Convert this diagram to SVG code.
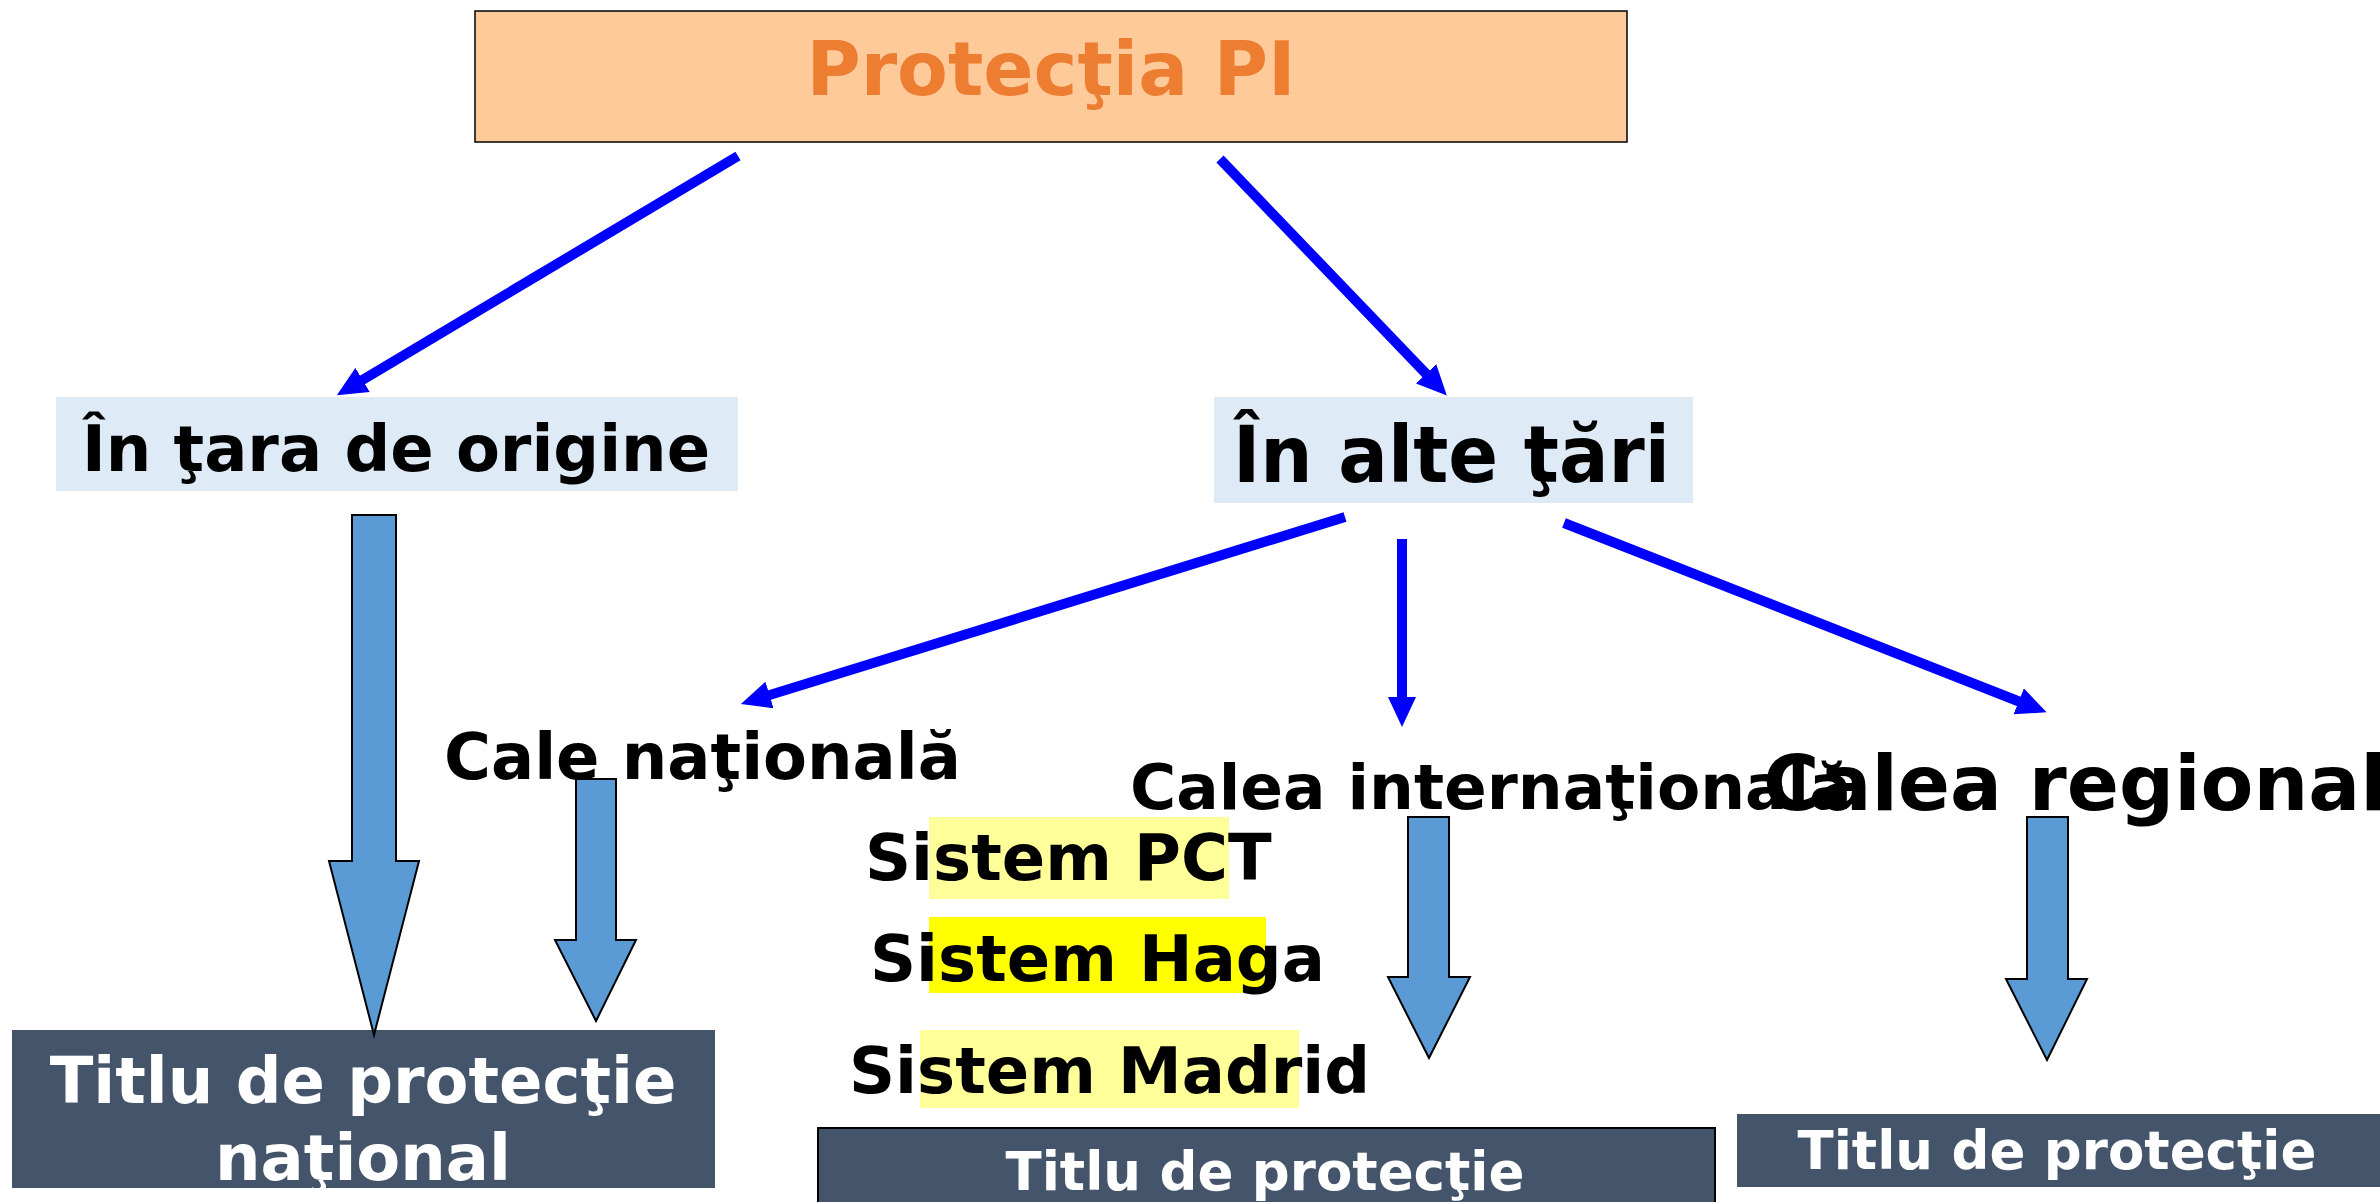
<svg xmlns="http://www.w3.org/2000/svg" width="2380" height="1202" viewBox="0 0 2380 1202">
<style>
text{font-family:"DejaVu Sans","Liberation Sans",sans-serif;font-weight:bold}
.lb{fill:#DEEAF6}
.dk{fill:#44546A}
.wt{fill:#ffffff}
.bk{fill:#000000}
.blk{fill:#5B9BD5;stroke:#000;stroke-width:2}
.con{stroke:#0000FF;stroke-width:10;fill:none;marker-end:url(#ah)}
</style>
<defs>
<marker id="ah" markerUnits="userSpaceOnUse" markerWidth="30" markerHeight="28" refX="10" refY="14" orient="auto">
<path d="M0,0 L30,14 L0,28 Z" fill="#0000FF"/>
</marker>
</defs>
<rect width="2380" height="1202" fill="#ffffff"/>
<g id="node-protectia">
<rect x="475" y="11" width="1152" height="131" fill="#FFCA99" stroke="#000" stroke-width="1.5"/>
<text x="1051" y="95" font-size="74" text-anchor="middle" fill="#ED7D31">Protecţia PI</text>
</g>
<g id="node-tara-origine">
<rect class="lb" x="56" y="397" width="682" height="94"/>
<text class="bk" x="396" y="471" font-size="64" text-anchor="middle">În ţara de origine</text>
</g>
<g id="node-alte-tari">
<rect class="lb" x="1214" y="397" width="479" height="106"/>
<text class="bk" x="1233" y="482" font-size="78" textLength="437" lengthAdjust="spacingAndGlyphs">În alte ţări</text>
</g>
<g id="node-cale-nationala">
<text class="bk" x="444" y="779" font-size="64">Cale naţională</text>
</g>
<g id="node-calea-internationala">
<text class="bk" x="1130" y="809" font-size="63">Calea internaţională</text>
</g>
<g id="node-calea-regionala">
<text class="bk" x="1763" y="810" font-size="77">Calea regională</text>
</g>
<g id="node-sistem-pct">
<rect x="929" y="817" width="300" height="82" fill="#FFFF99"/>
<text class="bk" x="865" y="880" font-size="64">Sistem PCT</text>
</g>
<g id="node-sistem-haga">
<rect x="929" y="917" width="337" height="76" fill="#FFFF00"/>
<text class="bk" x="870" y="981" font-size="64">Sistem Haga</text>
</g>
<g id="node-sistem-madrid">
<rect x="920" y="1030" width="379" height="78" fill="#FFFF99"/>
<text class="bk" x="849" y="1093" font-size="64">Sistem Madrid</text>
</g>
<g id="node-titlu-national">
<rect class="dk" x="12" y="1030" width="703" height="158"/>
<text class="wt" x="363" y="1103" font-size="64" text-anchor="middle">Titlu de protecţie</text>
<text class="wt" x="363" y="1180" font-size="64" text-anchor="middle">naţional</text>
</g>
<g id="node-titlu-international">
<rect class="dk" x="818" y="1128" width="897" height="90" stroke="#000" stroke-width="2"/>
<text class="wt" x="1265" y="1190" font-size="53" text-anchor="middle">Titlu de protecţie</text>
</g>
<g id="node-titlu-regional">
<rect class="dk" x="1737" y="1114" width="643" height="73"/>
<text class="wt" x="2057" y="1169" font-size="53" text-anchor="middle">Titlu de protecţie</text>
</g>
<g id="block-arrows">
<polygon class="blk" points="352,515 396,515 396,861 419,861 374,1035 329,861 352,861"/>
<polygon class="blk" points="576,779 616,779 616,940 636,940 596,1021 555,940 576,940"/>
<polygon class="blk" points="1408,817 1449,817 1449,977 1470,977 1429,1058 1388,977 1408,977"/>
<polygon class="blk" points="2027,817 2068,817 2068,979 2087,979 2047,1060 2006,979 2027,979"/>
</g>
<g id="connectors">
<line class="con" x1="738" y1="156" x2="354" y2="385"/>
<line class="con" x1="1220" y1="159" x2="1433" y2="381"/>
<line class="con" x1="1345" y1="517" x2="760" y2="698"/>
<line class="con" x1="1402" y1="539" x2="1402" y2="707"/>
<line class="con" x1="1564" y1="523" x2="2028" y2="705"/>
</g>
</svg>
